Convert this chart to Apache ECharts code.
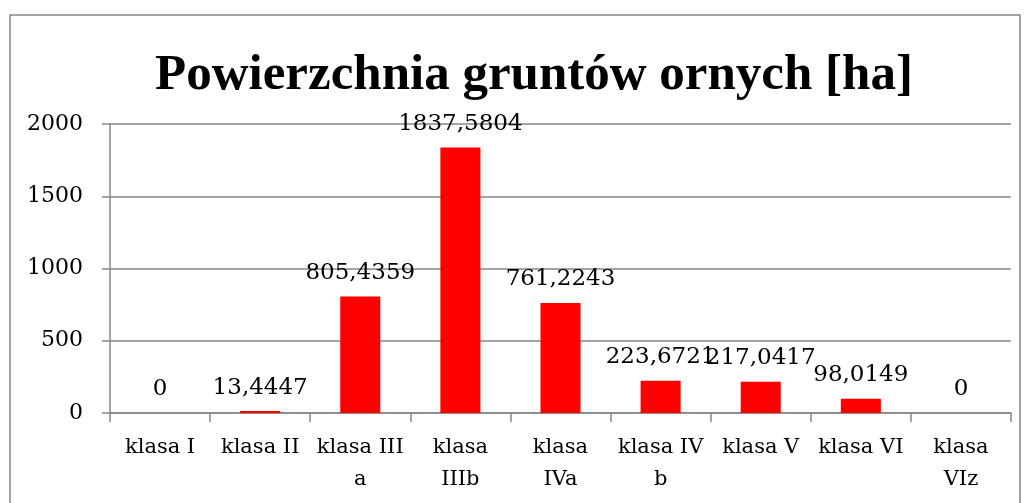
<!DOCTYPE html>
<html>
<head>
<meta charset="utf-8">
<script src="https://cdn.jsdelivr.net/npm/echarts@6/dist/echarts.min.js"></script>
<style>
  html, body { margin: 0; padding: 0; background: #fff; }
  #chart { width: 1027px; height: 503px; }
</style>
</head>
<body>
<div id="chart"></div>
<script>
// dane wykresu
var categories = ["klasa I", "klasa II", "klasa IIIa", "klasa IIIb", "klasa IVa", "klasa IVb", "klasa V", "klasa VI", "klasa VIz"];
// jak Excel łamie etykiety osi
var tickLabels = ["klasa I", "klasa II", "klasa III\na", "klasa\nIIIb", "klasa\nIVa", "klasa IV\nb", "klasa V", "klasa VI", "klasa\nVIz"];
var areaHa = [0, 13.4447, 805.4359, 1837.5804, 761.2243, 223.6721, 217.0417, 98.0149, 0];
var yTicks = [0, 500, 1000, 1500, 2000];

var serif = "DejaVu Serif";
var grey = "#868686";

var chart = echarts.init(document.getElementById("chart"));
chart.setOption({
  animation: false,
  title: {
    text: "Powierzchnia gruntów ornych [ha]",
    left: 529,
    textAlign: "center",
    top: 45,
    textStyle: {
      fontFamily: "Liberation Serif",
      fontWeight: "bold",
      fontSize: 51,
      color: "#000"
    }
  },
  graphic: [
    {
      type: "rect",
      shape: { x: 10, y: 15, width: 1010, height: 520 },
      style: { fill: null, stroke: grey, lineWidth: 1.5 },
      silent: true
    }
  ],
  grid: {
    left: 110,
    right: 16,
    top: 124,
    bottom: 90
  },
  xAxis: {
    type: "category",
    data: categories,
    axisLine: { lineStyle: { color: grey, width: 1.5 } },
    axisTick: { show: true, length: 9, lineStyle: { color: grey, width: 1.5 } },
    axisLabel: {
      interval: 0,
      margin: 19,
      fontFamily: serif,
      fontSize: 21,
      lineHeight: 32,
      color: "#000",
      formatter: function (v, i) { return tickLabels[i]; }
    }
  },
  yAxis: {
    type: "value",
    min: yTicks[0],
    max: yTicks[yTicks.length - 1],
    interval: 500,
    axisLine: { show: true, lineStyle: { color: grey, width: 1.5 } },
    axisTick: { show: true, length: 8, lineStyle: { color: grey, width: 1.5 } },
    splitLine: { lineStyle: { color: grey, width: 1.5 } },
    axisLabel: {
      margin: 27,
      fontFamily: serif,
      fontSize: 22,
      color: "#000",
      formatter: function (v) { return String(v); }
    }
  },
  series: [
    {
      type: "bar",
      data: areaHa,
      barWidth: "40%",
      itemStyle: { color: "#ff0000" },
      label: {
        show: true,
        position: "top",
        distance: 12,
        fontFamily: serif,
        fontSize: 23,
        color: "#000",
        formatter: function (p) { return String(p.value).replace(".", ","); }
      }
    }
  ]
});
</script>
</body>
</html>
